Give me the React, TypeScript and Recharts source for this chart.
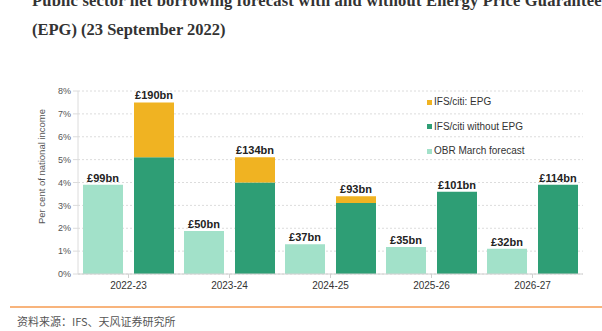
import React from "react";
import {
  BarChart,
  Bar,
  XAxis,
  YAxis,
  CartesianGrid,
  LabelList,
} from "recharts";

const years = ["2022-23", "2023-24", "2024-25", "2025-26", "2026-27"];
const obrForecast = [3.9, 1.88, 1.3, 1.18, 1.1];
const ifsWithoutEpg = [5.1, 4.0, 3.1, 3.6, 3.9];
const ifsEpg = [2.4, 1.1, 0.3, 0, 0];
const obrLabels = ["£99bn", "£50bn", "£37bn", "£35bn", "£32bn"];
const ifsLabels = ["£190bn", "£134bn", "£93bn", "£101bn", "£114bn"];
const yTicks = [0, 1, 2, 3, 4, 5, 6, 7, 8];

const MINT = "#a2e1c9";
const GREEN = "#2e9e75";
const ORANGE = "#f0b322";

const data = years.map((year, i) => ({
  year,
  obr: obrForecast[i],
  ifs: ifsWithoutEpg[i],
  epg: ifsEpg[i],
}));

const legendItems = [
  { name: "IFS/citi: EPG", color: ORANGE },
  { name: "IFS/citi without EPG", color: GREEN },
  { name: "OBR March forecast", color: MINT },
];

const font = "'Liberation Sans', Arial, sans-serif";

// label drawn above a bar; for the IFS stack the EPG part is added on top
// using the green bar's own height per unit
function topLabel(labels: string[], extra?: number[], base?: number[]) {
  return (props: any) => {
    const { x, y, width, height, index } = props;
    let top = Number(y);
    if (extra && base) {
      top -= (Number(height) * extra[index]) / base[index];
    }
    return (
      <text
        x={Number(x) + Number(width) / 2}
        y={top - 3}
        textAnchor="middle"
        fontSize={11}
        fontWeight="bold"
        fill="#222"
        fontFamily={font}
      >
        {labels[index]}
      </text>
    );
  };
}

export default function App() {
  return (
    <div
      style={{
        position: "absolute",
        left: 0,
        top: 0,
        width: 602,
        height: 331,
        background: "#fff",
        overflow: "hidden",
      }}
    >
      <div
        style={{
          position: "absolute",
          left: 32,
          top: -14,
          fontFamily: "'Liberation Serif', 'Times New Roman', serif",
          fontWeight: "bold",
          fontSize: 16.5,
          lineHeight: "29px",
          color: "#333",
          whiteSpace: "nowrap",
        }}
      >
        <span style={{ letterSpacing: 0.2 }}>
          Public sector net borrowing forecast with and without Energy Price Guarantee
        </span>
        <br />
        (EPG) (23 September 2022)
      </div>

      <div style={{ position: "absolute", left: 0, top: 0 }}>
        <BarChart
          width={602}
          height={331}
          data={data}
          margin={{ top: 91, right: 19, bottom: 27, left: 48 }}
          barSize={40}
          barGap={11}
        >
          <CartesianGrid
            vertical={false}
            stroke="#dcdcdc"
            strokeDasharray="2 2"
          />
          <XAxis
            dataKey="year"
            height={30}
            axisLine={{ stroke: "#d0d0d0" }}
            tickLine={{ stroke: "#d0d0d0" }}
            tickSize={4}
            tick={{ fontSize: 10, fill: "#333", fontFamily: font, dy: 2 }}
          />
          <YAxis
            width={30}
            domain={[0, 8]}
            ticks={yTicks}
            interval={0}
            tickFormatter={(v: number) => `${v}%`}
            axisLine={{ stroke: "#dcdcdc" }}
            tickLine={{ stroke: "#dcdcdc" }}
            tickSize={5}
            tick={{ fontSize: 9, fill: "#555", fontFamily: font }}
          />
          <Bar dataKey="obr" stackId="a" fill={MINT} isAnimationActive={false}>
            <LabelList dataKey="obr" content={topLabel(obrLabels)} />
          </Bar>
          <Bar dataKey="ifs" stackId="b" fill={GREEN} isAnimationActive={false}>
            <LabelList
              dataKey="ifs"
              content={topLabel(ifsLabels, ifsEpg, ifsWithoutEpg)}
            />
          </Bar>
          <Bar dataKey="epg" stackId="b" fill={ORANGE} isAnimationActive={false} />
        </BarChart>
      </div>

      <div
        style={{
          position: "absolute",
          left: 36,
          top: 104,
          width: 12,
          height: 124,
          display: "flex",
          alignItems: "center",
          justifyContent: "center",
        }}
      >
        <div
          style={{
            transform: "rotate(-90deg)",
            whiteSpace: "nowrap",
            fontFamily: font,
            fontSize: 9.5,
            color: "#555",
          }}
        >
          Per cent of national income
        </div>
      </div>

      {legendItems.map((item, i) => (
        <div
          key={item.name}
          style={{
            position: "absolute",
            left: 427,
            top: 95 + i * 24.5,
            display: "flex",
            alignItems: "center",
            fontFamily: font,
            fontSize: 10,
            color: "#333",
            whiteSpace: "nowrap",
            lineHeight: "14px",
          }}
        >
          <span
            style={{
              display: "inline-block",
              width: 5,
              height: 5,
              background: item.color,
              marginRight: 2,
            }}
          />
          {item.name}
        </div>
      ))}

      <div
        style={{
          position: "absolute",
          left: 10,
          top: 306,
          width: 592,
          height: 2,
          background: "#f8b47c",
        }}
      />
      <div
        style={{
          position: "absolute",
          left: 17,
          top: 313,
          fontFamily: "'Noto Sans CJK SC', sans-serif",
          fontSize: 11,
          color: "#555",
          whiteSpace: "nowrap",
        }}
      >
        资料来源：IFS、天风证券研究所
      </div>
    </div>
  );
}
